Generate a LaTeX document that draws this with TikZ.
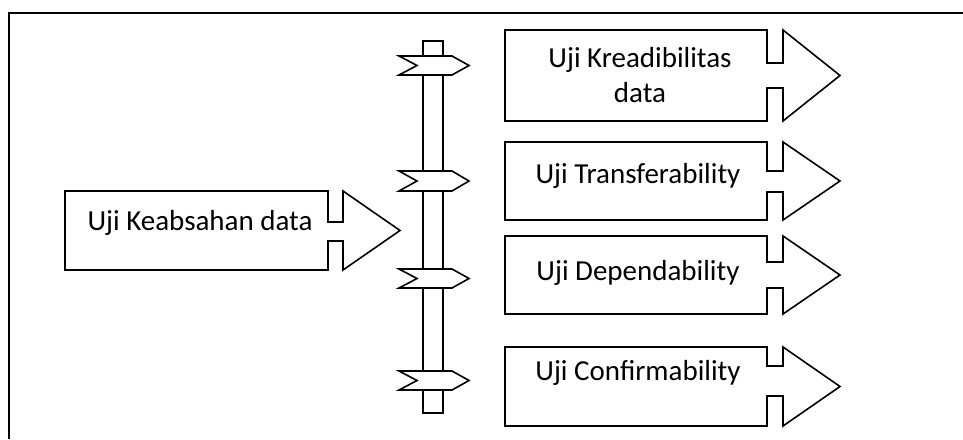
\documentclass[tikz,border=0pt]{standalone}
\usepackage{fontspec}
\setmainfont{Carlito}
\tikzset{
  shp/.style={draw=black, fill=white, line width=1.6pt, line join=miter},
  lbl/.style={font=\fontsize{29}{34}\selectfont, align=center, inner sep=0pt},
  frm/.style={draw=black, line width=2.4pt}
}
\newcommand{\callout}[8]{% x1,y1,x2,y2,shafttop,shaftbot,headx,tipx
  \draw[shp] (#1,#2) -- (#3,#2) -- (#3,#5) -- (#7,#5) -- (#7,#2) -- (#8,{(#2+#4)/2}) -- (#7,#4) -- (#7,#6) -- (#3,#6) -- (#3,#4) -- (#1,#4) -- cycle;}
\newcommand{\signboard}[2]{% top, bottom
  \draw[shp] (399,#1) -- (452,#1) -- (469,{(#1+#2)/2}) -- (452,#2) -- (399,#2) -- (417,{(#1+#2)/2}) -- cycle;}
\begin{document}
\begin{tikzpicture}[x=1pt,y=-1pt]
\useasboundingbox (0,0) rectangle (963,439);
\fill[white] (0,0) rectangle (963,439);
\draw[frm] (963,13) -- (9,13) -- (9,439);
% left callout
\callout{65}{191}{328}{270}{222}{241}{343}{400}
\node[lbl, anchor=base] (src) at (200,230) {Uji Keabsahan data};
% signpost
\draw[shp] (423,41) rectangle (443,413);
\signboard{56}{75}
\signboard{171}{191}
\signboard{269}{288}
\signboard{371}{390}
% right callouts
\callout{505}{30}{767}{121}{63}{88}{783}{840}
\node[lbl, anchor=base] (k1) at (640,67) {Uji Kreadibilitas};
\node[lbl, anchor=base] (k1b) at (640,102) {data};
\callout{505}{142}{767}{220}{171}{192}{783}{840}
\node[lbl, anchor=base] (k2) at (638,183) {Uji Transferability};
\callout{505}{236}{767}{314}{262}{288}{783}{840}
\node[lbl, anchor=base] (k3) at (638,280) {Uji Dependability};
\callout{505}{347}{767}{426}{366}{396}{783}{840}
\node[lbl, anchor=base] (k4) at (638,380) {Uji Confirmability};
\end{tikzpicture}
\end{document}
